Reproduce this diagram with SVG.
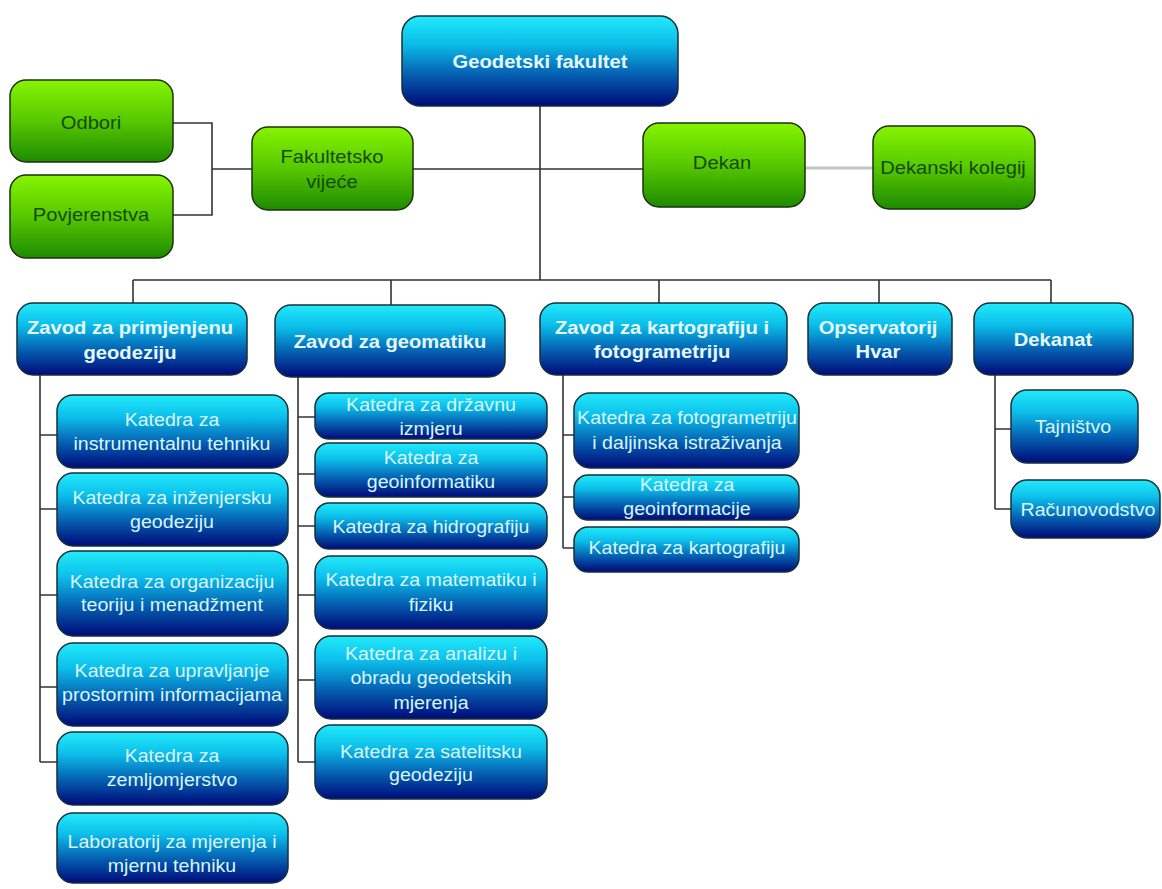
<svg xmlns="http://www.w3.org/2000/svg" width="1162" height="889" viewBox="0 0 1162 889">
<defs>
<linearGradient id="gb" x1="0" y1="0" x2="0" y2="1">
<stop offset="0" stop-color="#22eafa"/>
<stop offset="0.3" stop-color="#0cbfea"/>
<stop offset="0.65" stop-color="#0560b2"/>
<stop offset="1" stop-color="#000a78"/>
</linearGradient>
<linearGradient id="gg" x1="0" y1="0" x2="0" y2="1">
<stop offset="0" stop-color="#86f400"/>
<stop offset="0.5" stop-color="#56c800"/>
<stop offset="1" stop-color="#1e8a00"/>
</linearGradient>
<style>
.b{fill:url(#gb);stroke:#16303a;stroke-width:1.5}
.g{fill:url(#gg);stroke:#1c3010;stroke-width:1.5}
.c{fill:none;stroke:#333;stroke-width:1.6}
.cg{fill:none;stroke:#c4c4c4;stroke-width:3}
text{font-family:"Liberation Sans",Arial,sans-serif;text-anchor:middle;dominant-baseline:central}
.tb{font-size:18px;font-weight:bold;fill:#e6f8ff}
.tk{font-size:17.5px;fill:#d8f6ff}
.tg{font-size:18px;fill:#154a08}
</style>
</defs>
<rect width="1162" height="889" fill="#fff"/>
<g id="connectors">
<path class="c" d="M173,123 H212 V215 H173 M212,169 H252"/>
<path class="c" d="M413,169 H643"/>
<path class="cg" d="M805,168 H873"/>
<path class="c" d="M540,106 V280 M133,280 H1051 M133,280 V303 M391,280 V305 M659,280 V303 M879,280 V303 M1051,280 V303"/>
<path class="c" d="M40,375 V762 M40,435 H57 M40,509 H57 M40,595 H57 M40,687 H57 M40,762 H57"/>
<path class="c" d="M298,377 V762 M298,417 H315 M298,474 H315 M298,526 H315 M298,595 H315 M298,680 H315 M298,762 H315"/>
<path class="c" d="M563,375 V548 M563,435 H574 M563,497 H574 M563,548 H574"/>
<path class="c" d="M995,375 V509 M995,429 H1011 M995,509 H1011"/>
</g>
<g id="n-odbori"><rect class="g" x="10" y="80" width="163" height="82" rx="16"/><g transform="translate(91 0) scale(1.12 1)"><text class="tg" x="0" y="123">Odbori</text></g></g>
<g id="n-povjerenstva"><rect class="g" x="10" y="175" width="163" height="83" rx="16"/><g transform="translate(91 0) scale(1.12 1)"><text class="tg" x="0" y="215">Povjerenstva</text></g></g>
<g id="n-fakultetsko"><rect class="g" x="252" y="127" width="161" height="83" rx="16"/><g transform="translate(332 0) scale(1.12 1)"><text class="tg" x="0" y="157">Fakultetsko</text><text class="tg" x="0" y="182">vijeće</text></g></g>
<g id="n-dekan"><rect class="g" x="643" y="123" width="162" height="84" rx="16"/><g transform="translate(722 0) scale(1.12 1)"><text class="tg" x="0" y="163">Dekan</text></g></g>
<g id="n-kolegij"><rect class="g" x="873" y="126" width="162" height="83" rx="16"/><g transform="translate(953 0) scale(1.12 1)"><text class="tg" x="0" y="168">Dekanski kolegij</text></g></g>
<g id="n-geodetski"><rect class="b" x="402" y="16" width="276" height="90" rx="18"/><g transform="translate(540 0) scale(1.12 1)"><text class="tb" x="0" y="62">Geodetski fakultet</text></g></g>
<g id="n-zavod1"><rect class="b" x="17" y="303" width="230" height="72" rx="16"/><g transform="translate(130 0) scale(1.12 1)"><text class="tb" x="0" y="328">Zavod za primjenjenu</text><text class="tb" x="0" y="353">geodeziju</text></g></g>
<g id="n-zavod2"><rect class="b" x="275" y="305" width="230" height="72" rx="16"/><g transform="translate(390 0) scale(1.12 1)"><text class="tb" x="0" y="342">Zavod za geomatiku</text></g></g>
<g id="n-zavod3"><rect class="b" x="540" y="303" width="247" height="72" rx="16"/><g transform="translate(662 0) scale(1.12 1)"><text class="tb" x="0" y="328">Zavod za kartografiju i</text><text class="tb" x="0" y="352">fotogrametriju</text></g></g>
<g id="n-hvar"><rect class="b" x="808" y="303" width="144" height="72" rx="16"/><g transform="translate(878 0) scale(1.12 1)"><text class="tb" x="0" y="328">Opservatorij</text><text class="tb" x="0" y="352">Hvar</text></g></g>
<g id="n-dekanat"><rect class="b" x="974" y="303" width="159" height="72" rx="16"/><g transform="translate(1053 0) scale(1.12 1)"><text class="tb" x="0" y="340">Dekanat</text></g></g>
<g id="n-k11"><rect class="b" x="57" y="395" width="231" height="73" rx="16"/><g transform="translate(172 0) scale(1.12 1)"><text class="tk" x="0" y="420">Katedra za</text><text class="tk" x="0" y="444">instrumentalnu tehniku</text></g></g>
<g id="n-k12"><rect class="b" x="57" y="473" width="231" height="73" rx="16"/><g transform="translate(172 0) scale(1.12 1)"><text class="tk" x="0" y="498">Katedra za inženjersku</text><text class="tk" x="0" y="522">geodeziju</text></g></g>
<g id="n-k13"><rect class="b" x="57" y="551" width="231" height="85" rx="16"/><g transform="translate(172 0) scale(1.12 1)"><text class="tk" x="0" y="582">Katedra za organizaciju</text><text class="tk" x="0" y="605">teoriju i menadžment</text></g></g>
<g id="n-k14"><rect class="b" x="57" y="643" width="231" height="83" rx="16"/><g transform="translate(172 0) scale(1.12 1)"><text class="tk" x="0" y="671">Katedra za upravljanje</text><text class="tk" x="0" y="695">prostornim informacijama</text></g></g>
<g id="n-k15"><rect class="b" x="57" y="732" width="231" height="73" rx="16"/><g transform="translate(172 0) scale(1.12 1)"><text class="tk" x="0" y="756">Katedra za</text><text class="tk" x="0" y="780">zemljomjerstvo</text></g></g>
<g id="n-k16"><rect class="b" x="57" y="813" width="231" height="70" rx="16"/><g transform="translate(172 0) scale(1.12 1)"><text class="tk" x="0" y="842">Laboratorij za mjerenja i</text><text class="tk" x="0" y="866">mjernu tehniku</text></g></g>
<g id="n-k21"><rect class="b" x="315" y="393" width="232" height="46" rx="14"/><g transform="translate(431 0) scale(1.12 1)"><text class="tk" x="0" y="405">Katedra za državnu</text><text class="tk" x="0" y="429">izmjeru</text></g></g>
<g id="n-k22"><rect class="b" x="315" y="443" width="232" height="54" rx="14"/><g transform="translate(431 0) scale(1.12 1)"><text class="tk" x="0" y="458">Katedra za</text><text class="tk" x="0" y="482">geoinformatiku</text></g></g>
<g id="n-k23"><rect class="b" x="315" y="503" width="232" height="46" rx="14"/><g transform="translate(431 0) scale(1.12 1)"><text class="tk" x="0" y="527">Katedra za hidrografiju</text></g></g>
<g id="n-k24"><rect class="b" x="315" y="556" width="232" height="73" rx="16"/><g transform="translate(431 0) scale(1.12 1)"><text class="tk" x="0" y="580">Katedra za matematiku i</text><text class="tk" x="0" y="605">fiziku</text></g></g>
<g id="n-k25"><rect class="b" x="315" y="636" width="232" height="83" rx="16"/><g transform="translate(431 0) scale(1.12 1)"><text class="tk" x="0" y="654">Katedra za analizu i</text><text class="tk" x="0" y="678">obradu geodetskih</text><text class="tk" x="0" y="703">mjerenja</text></g></g>
<g id="n-k26"><rect class="b" x="315" y="725" width="232" height="74" rx="16"/><g transform="translate(431 0) scale(1.12 1)"><text class="tk" x="0" y="752">Katedra za satelitsku</text><text class="tk" x="0" y="775">geodeziju</text></g></g>
<g id="n-k31"><rect class="b" x="574" y="393" width="225" height="75" rx="16"/><g transform="translate(687 0) scale(1.12 1)"><text class="tk" x="0" y="418">Katedra za fotogrametriju</text><text class="tk" x="0" y="443">i daljinska istraživanja</text></g></g>
<g id="n-k32"><rect class="b" x="574" y="475" width="225" height="45" rx="14"/><g transform="translate(687 0) scale(1.12 1)"><text class="tk" x="0" y="485">Katedra za</text><text class="tk" x="0" y="509">geoinformacije</text></g></g>
<g id="n-k33"><rect class="b" x="574" y="527" width="225" height="45" rx="14"/><g transform="translate(687 0) scale(1.12 1)"><text class="tk" x="0" y="548">Katedra za kartografiju</text></g></g>
<g id="n-tajnistvo"><rect class="b" x="1011" y="390" width="127" height="73" rx="16"/><g transform="translate(1073 0) scale(1.12 1)"><text class="tk" x="0" y="427">Tajništvo</text></g></g>
<g id="n-racunovodstvo"><rect class="b" x="1011" y="480" width="149" height="58" rx="16"/><g transform="translate(1088 0) scale(1.12 1)"><text class="tk" x="0" y="510">Računovodstvo</text></g></g>
</svg>
